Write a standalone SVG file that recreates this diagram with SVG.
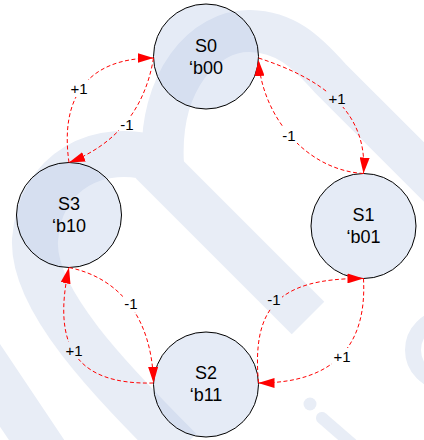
<svg xmlns="http://www.w3.org/2000/svg" width="424" height="440" viewBox="0 0 424 440">
  <style>
    .wm { fill: none; stroke: #e8edf6; }
    .node circle { fill: #b4c6e4; fill-opacity: 0.35; stroke: #000; stroke-width: 1; }
    .node text { font-family: "Liberation Sans", Arial, sans-serif; font-size: 18px; fill: #000; text-anchor: middle; }
    .edge { fill: none; stroke: #ff0000; stroke-width: 1; stroke-dasharray: 4 2.5; marker-end: url(#ah); }
    .lbl { font-family: "Liberation Sans", Arial, sans-serif; font-size: 15px; fill: #000; text-anchor: middle; }
  </style>
  <defs>
    <marker id="ah" markerUnits="userSpaceOnUse" viewBox="0 0 16 10" markerWidth="16" markerHeight="10" refX="16" refY="5" orient="auto">
      <path d="M0,0 L16,5 L0,10 Z" fill="#ff0000"/>
    </marker>
    <mask id="gaps" maskUnits="userSpaceOnUse" x="0" y="0" width="424" height="440">
      <rect x="0" y="0" width="424" height="440" fill="#fff"/>
      <g fill="#000">
        <rect x="69" y="80" width="20" height="17"/>
        <rect x="119" y="116" width="16" height="17"/>
        <rect x="327" y="90" width="20" height="17"/>
        <rect x="281" y="127" width="16" height="17"/>
        <rect x="266" y="291" width="16" height="17"/>
        <rect x="332" y="348" width="20" height="17"/>
        <rect x="123" y="295" width="16" height="17"/>
        <rect x="64" y="342" width="20" height="17"/>
      </g>
    </mask>
  </defs>

  <rect x="0" y="0" width="424" height="440" fill="#ffffff"/>

  <g id="watermark">
    <path class="wm" stroke-width="42" d="M163,165 C158,80 205,30 250,31 C285,32 305,50 330,78 L480,228"/>
    <path class="wm" stroke-width="46" d="M152,162 L308,318"/>
    <path class="wm" stroke-width="46" d="M160,160 C100,140 40,170 35,240 C32,300 110,380 180,450"/>
    <path class="wm" stroke-width="46" d="M-25,348 L50,460"/>
    <circle class="wm" stroke-width="16" cx="445" cy="350" r="32"/>
    <circle cx="310" cy="404" r="6.5" fill="#e8edf6"/>
    <path class="wm" stroke-width="12" stroke-linecap="round" d="M322,418 L352,444"/>
  </g>

  <g id="S0" class="node">
    <circle cx="206" cy="56.5" r="52.5"/>
    <text x="206" y="51.5">S0</text>
    <text x="206" y="73.5">‘b00</text>
  </g>
  <g id="S1" class="node">
    <circle cx="363.5" cy="226" r="52.5"/>
    <text x="363.5" y="220.5">S1</text>
    <text x="363.5" y="242.5">‘b01</text>
  </g>
  <g id="S2" class="node">
    <circle cx="206" cy="384.5" r="52.5"/>
    <text x="206" y="379">S2</text>
    <text x="206" y="401">‘b11</text>
  </g>
  <g id="S3" class="node">
    <circle cx="69" cy="215" r="52.5"/>
    <text x="69" y="209.5">S3</text>
    <text x="69" y="231.5">‘b10</text>
  </g>

  <g id="connectors">
    <g mask="url(#gaps)">
      <path id="e-s3-s0" class="edge" d="M69,162.5 C60,100 85,58 153.5,58"/>
      <path id="e-s0-s3" class="edge" d="M153.5,58 C145,110 115,145 69,162.5"/>
      <path id="e-s0-s1" class="edge" d="M258.5,58 C320,78 368,110 363.5,173.5"/>
      <path id="e-s1-s0" class="edge" d="M363.5,173.5 C305,170 262,115 258.5,60"/>
      <path id="e-s2-s1" class="edge" d="M258.5,383 C252,310 275,278 363.5,278.5"/>
      <path id="e-s1-s2" class="edge" d="M363.5,278.5 C367,345 335,383 258.5,383"/>
      <path id="e-s3-s2" class="edge" d="M69,267.5 C120,278 152,318 153.5,383"/>
      <path id="e-s2-s3" class="edge" d="M153.5,383 C75,385 52,345 69,267.5"/>
    </g>
    <text class="lbl" x="79" y="94">+1</text>
    <text class="lbl" x="127" y="130">-1</text>
    <text class="lbl" x="337" y="104">+1</text>
    <text class="lbl" x="289" y="141">-1</text>
    <text class="lbl" x="274" y="305">-1</text>
    <text class="lbl" x="342" y="362">+1</text>
    <text class="lbl" x="131" y="309">-1</text>
    <text class="lbl" x="74" y="356">+1</text>
  </g>
</svg>
